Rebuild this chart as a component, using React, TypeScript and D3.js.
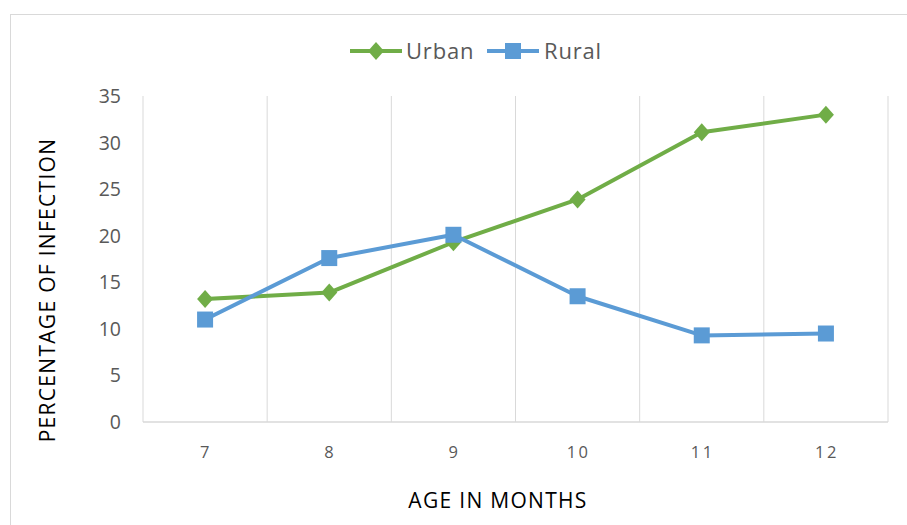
import React from "react";
import * as d3 from "d3";

const categories = ["7", "8", "9", "10", "11", "12"];
const urban = [13.2, 13.9, 19.3, 23.9, 31.1, 33.0];
const rural = [11.0, 17.6, 20.1, 13.5, 9.3, 9.5];
const yTicks = [0, 5, 10, 15, 20, 25, 30, 35];

const W = 907, H = 525;
const plot = { left: 143, right: 888, top: 96, bottom: 422 };
const font = "'Open Sans', 'Noto Sans', sans-serif";

export default function App() {
  const x = d3.scaleBand().domain(categories).range([plot.left, plot.right]);
  const y = d3.scaleLinear().domain([0, 35]).range([plot.bottom, plot.top]);
  const cx = (c: string) => (x(c) as number) + x.bandwidth() / 2;
  const line = d3.line<number>().x((_, i) => cx(categories[i])).y((d) => y(d));
  const green = "#70ad47";
  const blue = "#5b9bd5";
  const grid = "#d9d9d9";
  const boundaries = [...categories.map((c) => x(c) as number), plot.right];

  const diamond = (px: number, py: number, r: number) =>
    `M${px},${py - r - 1}L${px + r},${py}L${px},${py + r + 1}L${px - r},${py}Z`;

  return (
    <svg width={W} height={H} style={{ position: "absolute", left: 0, top: 0 }}>
      <rect x={0} y={0} width={W} height={H} fill="#fff" />
      <rect x={10.5} y={14.5} width={W} height={H} fill="none" stroke={grid} strokeWidth={1} />
      {boundaries.map((b, i) => (
        <line key={i} x1={b} x2={b} y1={plot.top} y2={plot.bottom} stroke={grid} strokeWidth={1} />
      ))}
      <line x1={plot.left} x2={plot.right} y1={plot.bottom} y2={plot.bottom} stroke={grid} strokeWidth={1.5} />
      {yTicks.map((t) => (
        <text key={t} x={121} y={y(t)} dy="0.36em" textAnchor="end" fontFamily={font} fontSize={19.5} fill="#595959">
          {t}
        </text>
      ))}
      {categories.map((c) => (
        <text key={c} x={cx(c) + 1} y={452} dy="0.36em" textAnchor="middle" fontFamily={font} fontSize={16.5} letterSpacing={2.5} fill="#595959">
          {c}
        </text>
      ))}
      <path d={line(urban) as string} fill="none" stroke={green} strokeWidth={4} strokeLinejoin="round" />
      <path d={line(rural) as string} fill="none" stroke={blue} strokeWidth={4} strokeLinejoin="round" />
      {urban.map((v, i) => (
        <path key={i} d={diamond(cx(categories[i]), y(v), 8)} fill={green} />
      ))}
      {rural.map((v, i) => (
        <rect key={i} x={cx(categories[i]) - 8} y={y(v) - 8} width={16} height={16} fill={blue} />
      ))}
      {/* legend */}
      <line x1={350} x2={402} y1={51} y2={51} stroke={green} strokeWidth={4} />
      <path d={diamond(376, 51, 8)} fill={green} />
      <text x={406} y={51} dy="0.36em" fontFamily={font} fontSize={22} letterSpacing={0.8} fill="#595959">Urban</text>
      <line x1={487} x2={539} y1={51} y2={51} stroke={blue} strokeWidth={4} />
      <rect x={505} y={43} width={16} height={16} fill={blue} />
      <text x={544} y={51} dy="0.36em" fontFamily={font} fontSize={22} letterSpacing={0.8} fill="#595959">Rural</text>
      {/* axis titles */}
      <text transform="translate(47,290) rotate(-90)" textAnchor="middle" dy="0.36em" fontFamily={font} fontSize={21} letterSpacing={1.3} fill="#000">
        PERCENTAGE OF INFECTION
      </text>
      <text x={498} y={500} textAnchor="middle" dy="0.36em" fontFamily={font} fontSize={21} letterSpacing={1.3} fill="#000">
        AGE IN MONTHS
      </text>
    </svg>
  );
}
